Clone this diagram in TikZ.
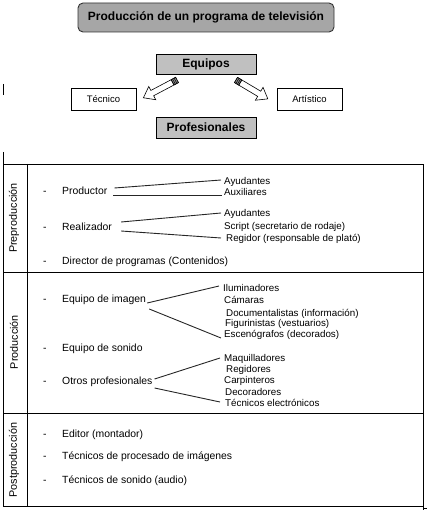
\documentclass[tikz,border=0pt]{standalone}
\usepackage{fontspec}
\setmainfont{Liberation Sans}
\usetikzlibrary{calc}
\definecolor{titlegray}{HTML}{A6A6A6}
\definecolor{boxgray}{HTML}{C0C0C0}
\tikzset{
  mainitem/.style={anchor=base west,inner sep=0pt,font=\fontsize{10.4}{12}\selectfont},
  subitem/.style={anchor=base west,inner sep=0pt,font=\fontsize{9.8}{11}\selectfont},
  seclabel/.style={rotate=90,inner sep=0pt,font=\fontsize{10.8}{12}\selectfont},
  conn/.style={line width=0.9pt,black!85},
  grid/.style={line width=0.9pt,black},
  headbox/.style={draw=black,line width=0.8pt,fill=boxgray,inner sep=0pt,minimum width=100pt,font=\fontsize{12}{14}\selectfont\bfseries},
  smallbox/.style={draw=black,line width=0.7pt,fill=white,inner sep=0pt,minimum width=65pt,minimum height=22pt,font=\fontsize{9.5}{11}\selectfont},
  blockarrow/.style={draw=black,line width=0.6pt,fill=white},
}
\begin{document}
\begin{tikzpicture}[x=1pt,y=-1pt]
\useasboundingbox (0,0) rectangle (427,510);
% title
\node[draw=black!80,line width=0.9pt,rounded corners=5pt,fill=titlegray,minimum width=256pt,minimum height=29pt,inner sep=0pt,font=\fontsize{12}{14}\selectfont\bfseries] (title) at (206,17.5) {Producción de un programa de televisión};
% boxes
\node[headbox,minimum height=20pt] (equipos) at (206,64) {Equipos};
\node[headbox,minimum height=21pt] (prof) at (206,127.5) {Profesionales};
\node[smallbox] (tecnico) at (103.5,99) {Técnico};
\node[smallbox] (artistico) at (309.5,99) {Artístico};
% block arrows
\foreach \sx/\sy/\ang/\L in {177/80/207.9/38, 236/80/-30.7/37}{
  \begin{scope}[shift={(\sx,\sy)},rotate=\ang]
    \draw[blockarrow] (0,-3) -- (\L-10,-3) -- (\L-10,-7.5) -- (\L,0) -- (\L-10,7.5) -- (\L-10,3) -- (0,3) -- cycle;
    \fill[black!45] (0,-3) rectangle (5,3);
    \draw[line width=0.5pt] (1.7,-3) -- (1.7,3) (3.4,-3) -- (3.4,3) (5,-3) -- (5,3);
    \draw[line width=0.6pt] (0,-3) rectangle (5,3);
  \end{scope}
}
% stray marks
\draw[grid] (3,84) -- (3,95);
\draw[grid] (3,152) -- (3,164);
\draw[grid] (423,506) -- (423,510);
\draw[line width=0.6pt] (423,508) -- (427,508);
% table
\draw[grid] (3,164) rectangle (423,506);
\draw[grid] (27,164) -- (27,506);
\draw[grid] (3,272) -- (423,272);
\draw[grid] (3,413) -- (423,413);
% section labels
\node[seclabel] (lpre) at (14,218) {Preproducción};
\node[seclabel] (lpro) at (14,342) {Producción};
\node[seclabel] (lpost) at (14,460) {Postproducción};
% Preproduccion
\node[mainitem] (d1) at (43,195) {-};
\node[mainitem] (prod) at (62,195) {Productor};
\node[subitem] (ayu1) at (224,184.5) {Ayudantes};
\node[subitem] (aux) at (224,195.5) {Auxiliares};
\node[mainitem] (d2) at (43,230) {-};
\node[mainitem] (real) at (62,230) {Realizador};
\node[subitem] (ayu2) at (224,216.5) {Ayudantes};
\node[subitem] (script) at (224,229.5) {Script (secretario de rodaje)};
\node[subitem] (regidor) at (226,241.5) {Regidor (responsable de plató)};
\node[mainitem] (d3) at (43,264) {-};
\node[mainitem] (dir) at (62,264) {Director de programas (Contenidos)};
% Produccion
\node[mainitem] (d4) at (43,302) {-};
\node[mainitem] (eqimg) at (62,302) {Equipo de imagen};
\node[subitem] (ilu) at (223,291.5) {Iluminadores};
\node[subitem] (cam) at (224,303.5) {Cámaras};
\node[subitem] (doc) at (226,316) {Documentalistas (información)};
\node[subitem] (fig) at (225,326.5) {Figurinistas (vestuarios)};
\node[subitem] (esc) at (224,337.5) {Escenógrafos (decorados)};
\node[mainitem] (d5) at (43,351) {-};
\node[mainitem] (eqson) at (62,351) {Equipo de sonido};
\node[mainitem] (d6) at (43,384) {-};
\node[mainitem] (otros) at (62,384) {Otros profesionales};
\node[subitem] (maq) at (224,361.5) {Maquilladores};
\node[subitem] (regs) at (226,372.5) {Regidores};
\node[subitem] (carp) at (224,383.5) {Carpinteros};
\node[subitem] (deco) at (225,395) {Decoradores};
\node[subitem] (tecel) at (225,406.5) {Técnicos electrónicos};
% Postproduccion
\node[mainitem] (d7) at (43,437) {-};
\node[mainitem] (edit) at (62,437) {Editor (montador)};
\node[mainitem] (d8) at (43,459) {-};
\node[mainitem] (tproc) at (62,459) {Técnicos de procesado de imágenes};
\node[mainitem] (d9) at (43,483) {-};
\node[mainitem] (tson) at (62,483) {Técnicos de sonido (audio)};
% connectors
\draw[conn] ($(prod.base east)+(7,-7)$) -- ($(ayu1.base west)+(-3,-4.5)$);
\draw[conn] ($(prod.base east)+(6,0)$) -- ($(aux.base west)+(-2,-0.5)$);
\draw[conn] ($(real.base east)+(9,-8)$) -- ($(ayu2.base west)+(-3,-3.5)$);
\draw[conn] ($(real.base east)+(9,1)$) -- ($(regidor.base west)+(-5,-3.5)$);
\draw[conn] ($(eqimg.base east)+(1,1)$) -- ($(ilu.base west)+(-4,-5.5)$);
\draw[conn] ($(eqimg.base east)+(3,7)$) -- ($(esc.base west)+(-3,0.5)$);
\draw[conn] ($(otros.base east)+(2,-5)$) -- ($(maq.base west)+(-4,-3.5)$);
\draw[conn] ($(otros.base east)+(2,4)$) -- ($(tecel.base west)+(-5,-4.5)$);
\end{tikzpicture}
\end{document}
